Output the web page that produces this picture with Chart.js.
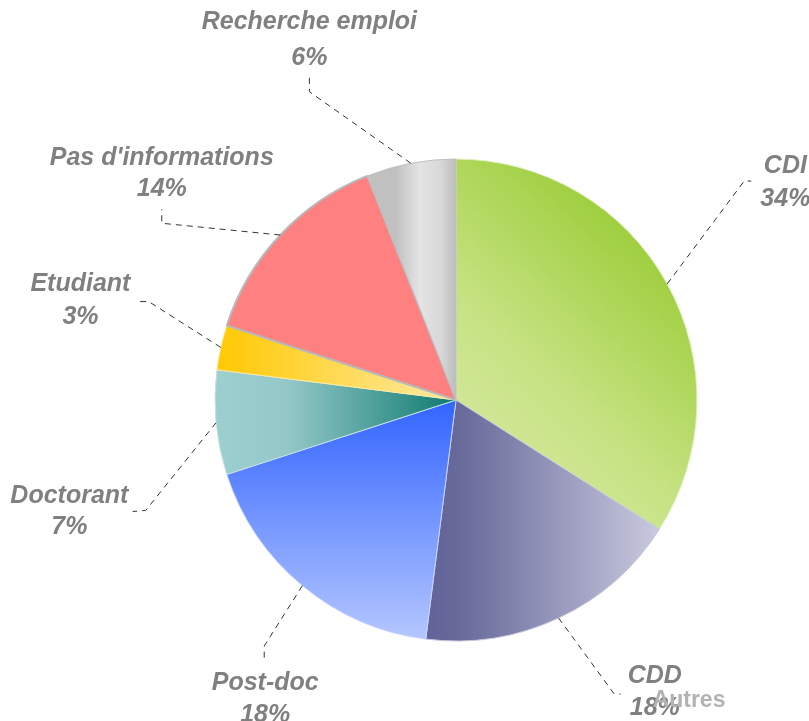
<!DOCTYPE html>
<html>
<head>
<meta charset="utf-8">
<script src="https://cdn.jsdelivr.net/npm/chart.js@4.4.1/dist/chart.umd.min.js"></script>
<style>
  html, body { margin: 0; padding: 0; background: #fff; }
  #wrap { width: 809px; height: 721px; position: relative; }
</style>
</head>
<body>
<div id="wrap"><canvas id="piechart"></canvas></div>
<script>
const categories = ['CDI', 'CDD', 'Post-doc', 'Doctorant', 'Etudiant', "Pas d'informations", 'Recherche emploi'];
const shares = [34, 18, 18, 7, 3, 14, 6];
const shareLabels = ['34%', '18%', '18%', '7%', '3%', '14%', '6%'];
const seriesName = 'Autres';

// label placement, px offsets from pie centre for a 240px radius
// text = centre of name line, elbow / stub = leader line bends
const labelSpots = [
  { text: [328, -233], elbow: [287, -218], stub: [294, -218], gap: 33 },
  { text: [198, 275], elbow: [157, 292], stub: [164, 293], gap: 32 },
  { text: [-190, 282], elbow: [-191, 245], stub: [-191, 257], gap: 32 },
  { text: [-385, 96], elbow: [-309, 110], stub: [-322, 111], gap: 31 },
  { text: [-374, -115], elbow: [-306, -98], stub: [-318, -98], gap: 33 },
  { text: [-293, -241], elbow: [-293, -176], stub: [-293, -190], gap: 31 },
  { text: [-146, -376], elbow: [-146, -307], stub: [-146, -321], gap: 36 }
];

function sliceFill(chart, i) {
  const area = chart.chartArea;
  if (!area) return '#ccc';
  const c = chart.ctx;
  const cx = (area.left + area.right) / 2;
  const cy = (area.top + area.bottom) / 2;
  const r = Math.min(area.right - area.left, area.bottom - area.top) / 2;
  let g;
  switch (i) {
    case 0:
      g = c.createLinearGradient(cx + 0.05 * r, cy + 0.45 * r, cx + r, cy - 0.55 * r);
      g.addColorStop(0, '#d9eba8');
      g.addColorStop(0.45, '#c6e282');
      g.addColorStop(1, '#9acc36');
      return g;
    case 1:
      g = c.createLinearGradient(cx - 0.12 * r, 0, cx + 0.83 * r, 0);
      g.addColorStop(0, '#62649a');
      g.addColorStop(0.15, '#686a9a');
      g.addColorStop(1, '#c8c8de');
      return g;
    case 2:
      g = c.createLinearGradient(0, cy, 0, cy + r);
      g.addColorStop(0, '#3264ff');
      g.addColorStop(1, '#b6c8ff');
      return g;
    case 3:
      g = c.createLinearGradient(cx - r, 0, cx, 0);
      g.addColorStop(0, '#9dcfcf');
      g.addColorStop(0.3, '#94c8c8');
      g.addColorStop(1, '#0e7a70');
      return g;
    case 4:
      g = c.createLinearGradient(cx - r, 0, cx, 0);
      g.addColorStop(0, '#ffc800');
      g.addColorStop(1, '#ffeba6');
      return g;
    case 5:
      return '#ff8080';
    default:
      g = c.createLinearGradient(cx - 0.25 * r, 0, cx, 0);
      g.addColorStop(0, '#c0c0c0');
      g.addColorStop(0.4, '#e4e4e4');
      g.addColorStop(0.75, '#d8d8d8');
      g.addColorStop(1, '#bcbcbc');
      return g;
  }
}

const leaderLabels = {
  id: 'leaderLabels',
  afterDatasetsDraw(chart) {
    const c = chart.ctx;
    const meta = chart.getDatasetMeta(0);
    c.save();
    meta.data.forEach((arc, i) => {
      const p = arc.getProps(['x', 'y', 'startAngle', 'endAngle', 'outerRadius'], true);
      const k = p.outerRadius / 240;
      const mid = (p.startAngle + p.endAngle) / 2;
      const spot = labelSpots[i];
      const sx = p.x + Math.cos(mid) * p.outerRadius;
      const sy = p.y + Math.sin(mid) * p.outerRadius;

      c.setLineDash([6, 5]);
      c.lineWidth = 1;
      c.strokeStyle = '#333';
      c.beginPath();
      c.moveTo(sx, sy);
      c.lineTo(p.x + spot.elbow[0] * k, p.y + spot.elbow[1] * k);
      c.lineTo(p.x + spot.stub[0] * k, p.y + spot.stub[1] * k);
      c.stroke();
      c.setLineDash([]);

      const tx = p.x + spot.text[0] * k;
      const ty = p.y + spot.text[1] * k;
      c.fillStyle = '#808080';
      c.font = 'italic bold 25px "Liberation Sans", Arial, sans-serif';
      c.textAlign = 'center';
      c.textBaseline = 'middle';
      c.fillText(categories[i], tx, ty);
      c.fillText(shareLabels[i], tx, ty + spot.gap);
    });

    // series name left over at bottom right
    c.font = 'bold 23px "Liberation Sans", Arial, sans-serif';
    c.fillStyle = '#b3b3b3';
    c.textAlign = 'center';
    c.textBaseline = 'middle';
    c.fillText(seriesName, 689, 701);
    c.restore();
  }
};

const ctx = document.getElementById('piechart');

new Chart(ctx, {
  type: 'pie',
  data: {
    labels: categories,
    datasets: [
      {
        label: seriesName,
        data: shares,
        backgroundColor: (context) => sliceFill(context.chart, context.dataIndex),
        borderColor: ['#dfefbf', '#c8c8dc', '#c6d4ff', '#c4e0e0', '#ffe9a0', '#b8b8b8', '#c0c0c0'],
        borderWidth: [1, 1, 1, 1, 1, 2, 1]
      }
    ]
  },
  options: {
    responsive: true,
    maintainAspectRatio: false,
    animation: false,
    layout: {
      padding: { top: 158, bottom: 79, left: 214, right: 111 }
    },
    plugins: {
      legend: { display: false },
      tooltip: { enabled: false }
    }
  },
  plugins: [leaderLabels]
});
</script>
</body>
</html>
